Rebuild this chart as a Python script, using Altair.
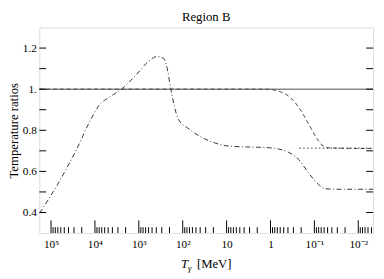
import altair as alt
import pandas as pd

# ---- data ----
# dash-dot curve
a_T = [1.82e5, 7.1e4, 2.57e4, 1.29e4, 7.8e3, 4.6e3, 2.5e3, 1.17e3, 590, 390, 270,
       230, 186, 155, 126, 76, 38, 19.5, 9.8, 3.5, 1.26, 0.63, 0.38, 0.224, 0.135,
       0.081, 0.058, 0.029, 0.0044]
a_r = [0.397, 0.537, 0.711, 0.846, 0.925, 0.962, 1.0, 1.068, 1.137, 1.159, 1.149,
       1.108, 1.0, 0.917, 0.854, 0.810, 0.767, 0.740, 0.724, 0.719, 0.716, 0.708,
       0.692, 0.656, 0.592, 0.537, 0.516, 0.513, 0.513]
# dashed curve
b_T = [1.85e5, 100, 3.0, 1.26, 0.63, 0.38, 0.224, 0.135, 0.087, 0.063, 0.041, 0.0044]
b_r = [1.0, 1.0, 1.0, 1.0, 0.989, 0.965, 0.910, 0.830, 0.759, 0.724, 0.714, 0.711]
# dotted line
c_T = [0.22, 0.0044]
c_r = [0.713, 0.713]
# solid reference line
d_T = [1.85e5, 4.6e-3]
d_r = [1.0, 1.0]

x_domain = [4.6e-3, 1.85e5]
y_domain = [0.3, 1.3]
x_major_exp = [5, 4, 3, 2, 1, 0, -1, -2]
x_major_lbl = ['10⁵', '10⁴', '10³', '10²', '10', '1', '10⁻¹', '10⁻²']
y_ticks = [0.4, 0.5, 0.6, 0.7, 0.8, 0.9, 1.0, 1.1, 1.2]
y_labels = [0.4, 0.6, 0.8, 1.0, 1.2]

W, H = 341, 210
FONT = "Liberation Serif"

x_major = [10.0 ** e for e in x_major_exp]
x_minor = [m * 10.0 ** k for k in range(-3, 6) for m in range(2, 10)
           if x_domain[0] <= m * 10.0 ** k <= x_domain[1]]

label_expr = " : ".join(
    f"round(log(datum.value)/LN10) == {e} ? '{l}'" for e, l in zip(x_major_exp, x_major_lbl)
) + " : ''"

xscale = alt.Scale(type="log", domain=x_domain, reverse=True, nice=False)
yscale = alt.Scale(domain=y_domain, nice=False, zero=False)
xaxis = alt.Axis(values=x_major, labelExpr=label_expr, ticks=False, domain=False,
                 grid=False, title=None, labelFont=FONT, labelFontSize=11.5,
                 labelPadding=6, labelColor="black", labelFlush=False)
yaxis = alt.Axis(values=y_labels, labelExpr="datum.value == 1 ? '1.' : format(datum.value, '.1f')",
                 ticks=False, domain=False, grid=False, title="Temperature ratios",
                 titleFont=FONT, titleFontSize=13, titleFontWeight="normal",
                 titleColor="black", titleX=-26, titleY=H / 2, titleAngle=270,
                 titleAlign="center", titleBaseline="middle",
                 labelFont=FONT, labelFontSize=11.5, labelPadding=3, labelColor="black")
X = alt.X("T:Q", scale=xscale, axis=xaxis)
Y = alt.Y("r:Q", scale=yscale, axis=yaxis)


def line(T, r, **kw):
    return alt.Chart(pd.DataFrame({"T": T, "r": r})).mark_line(
        clip=True, interpolate="monotone", **kw).encode(x=X, y=Y)


solid = line(d_T, d_r, color="#8a8a8a", strokeWidth=1.6)
dashed = line(b_T, b_r, color="#444444", strokeWidth=1, strokeDash=[4, 3])
dashdot = line(a_T, a_r, color="#333333", strokeWidth=1, strokeDash=[5, 2.5, 1, 2.5])
dotted = line(c_T, c_r, color="#333333", strokeWidth=1, strokeDash=[1.5, 2.5])

xmaj = alt.Chart(pd.DataFrame({"T": x_major})).mark_rule(color="black", strokeWidth=1).encode(
    x=X, y=alt.value(H), y2=alt.value(H - 13))
xmin = alt.Chart(pd.DataFrame({"T": x_minor})).mark_rule(color="black", strokeWidth=1).encode(
    x=X, y=alt.value(H), y2=alt.value(H - 6))
yl = alt.Chart(pd.DataFrame({"r": y_ticks})).mark_rule(color="black", strokeWidth=1).encode(
    y=Y, x=alt.value(0), x2=alt.value(7))
yr = alt.Chart(pd.DataFrame({"r": y_ticks})).mark_rule(color="black", strokeWidth=1).encode(
    y=Y, x=alt.value(W - 7), x2=alt.value(W))

one = pd.DataFrame({"a": [0]})
xt_T = alt.Chart(one).mark_text(text="T", font=FONT, fontSize=13, fontStyle="italic",
                                align="right", baseline="alphabetic", color="black").encode(
    x=alt.value(152), y=alt.value(246))
xt_g = alt.Chart(one).mark_text(text="γ", font=FONT, fontSize=9, fontStyle="italic",
                                align="left", baseline="alphabetic", color="black").encode(
    x=alt.value(152), y=alt.value(249))
xt_u = alt.Chart(one).mark_text(text="[MeV]", font=FONT, fontSize=13,
                                align="left", baseline="alphabetic", color="black").encode(
    x=alt.value(161), y=alt.value(246))

chart = alt.layer(solid, dashed, dashdot, dotted, xmaj, xmin, yl, yr,
                  xt_T, xt_g, xt_u).properties(
    width=W, height=H,
    title=alt.TitleParams("Region B", font=FONT, fontSize=13, fontWeight="normal",
                          color="black", anchor="middle", offset=4),
    padding={"left": 32, "top": 17, "right": 3, "bottom": 44},
    autosize=alt.AutoSizeParams(type="none"),
).configure_view(stroke="black", strokeWidth=1).configure(background="white")

chart.save("out.html", embed_options={"renderer": "svg", "actions": False})
